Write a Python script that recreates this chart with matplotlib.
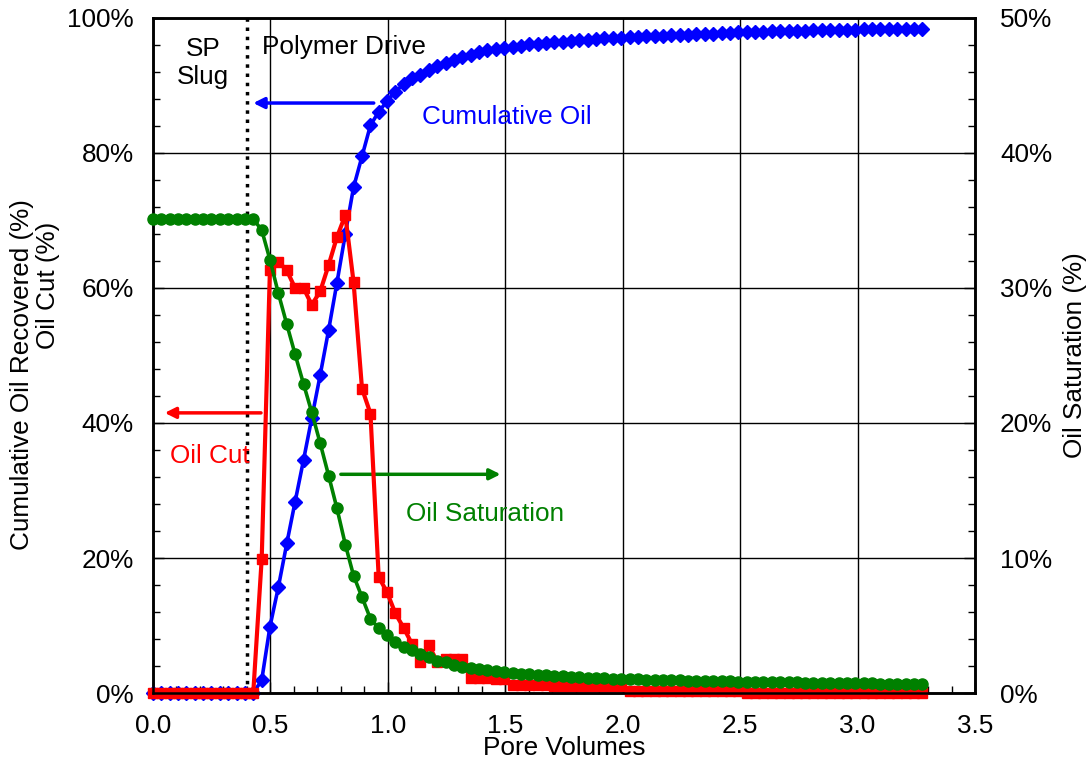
import numpy as np
import matplotlib.pyplot as plt
from matplotlib.ticker import MultipleLocator, PercentFormatter

plt.rcParams["font.family"] = ["Liberation Sans", "DejaVu Sans"]

# ============================================
# DATA
# ============================================

pore_volumes = [
    0.000, 0.036, 0.071, 0.107, 0.142, 0.178, 0.214, 0.249, 0.285, 0.320,
    0.356, 0.392, 0.427, 0.463, 0.498, 0.534, 0.570, 0.605, 0.641, 0.676,
    0.712, 0.748, 0.783, 0.819, 0.854, 0.890, 0.926, 0.961, 0.997, 1.032,
    1.068, 1.104, 1.139, 1.175, 1.210, 1.246, 1.282, 1.317, 1.353, 1.388,
    1.424, 1.460, 1.495, 1.531, 1.566, 1.602, 1.638, 1.673, 1.709, 1.744,
    1.780, 1.816, 1.851, 1.887, 1.922, 1.958, 1.994, 2.029, 2.065, 2.100,
    2.136, 2.172, 2.207, 2.243, 2.278, 2.314, 2.350, 2.385, 2.421, 2.456,
    2.492, 2.528, 2.563, 2.599, 2.634, 2.670, 2.706, 2.741, 2.777, 2.812,
    2.848, 2.884, 2.919, 2.955, 2.990, 3.026, 3.062, 3.097, 3.133, 3.168,
    3.204, 3.240, 3.275,
]

cumulative_oil = [
    0, 0, 0, 0, 0, 0, 0, 0, 0, 0,
    0, 0, 0, 1.9, 9.8, 15.7, 22.2, 28.3, 34.5, 40.7,
    47.1, 53.8, 60.7, 68.0, 74.9, 79.5, 84.1, 86.1, 87.7, 89.1,
    90.2, 91.1, 91.6, 92.3, 92.9, 93.3, 93.8, 94.2, 94.5, 94.9,
    95.2, 95.4, 95.6, 95.7, 95.9, 96.1, 96.2, 96.3, 96.4, 96.5,
    96.6, 96.7, 96.8, 96.9, 97.0, 97.0, 97.1, 97.15, 97.2, 97.3,
    97.35, 97.4, 97.45, 97.5, 97.55, 97.6, 97.65, 97.7, 97.75, 97.8,
    97.85, 97.9, 97.9, 97.95, 98.0, 98.0, 98.05, 98.1, 98.1, 98.15,
    98.15, 98.2, 98.2, 98.25, 98.25, 98.3, 98.3, 98.3, 98.35, 98.35,
    98.35, 98.4, 98.4,
]

oil_cut = [
    0, 0, 0, 0, 0, 0, 0, 0, 0, 0,
    0, 0, 0, 19.9, 62.7, 63.9, 62.6, 60.0, 60.0, 57.5,
    59.5, 63.4, 67.5, 70.8, 60.9, 45.1, 41.4, 17.2, 14.9, 11.8,
    9.6, 7.2, 4.6, 7.1, 4.6, 5.1, 5.1, 5.0, 2.2, 2.2,
    2.2, 2.1, 2.1, 1.2, 1.2, 1.2, 1.2, 1.2, 1.1, 1.1,
    1.1, 1.1, 1.1, 1.1, 1.1, 1.1, 1.1, 0.3, 0.3, 0.3,
    0.3, 0.3, 0.3, 0.3, 0.3, 0.3, 0.3, 0.3, 0.3, 0.3,
    0.3, 0, 0, 0, 0, 0, 0, 0, 0, 0,
    0, 0, 0, 0, 0, 0, 0, 0, 0, 0,
    0, 0, 0,
]

oil_saturation = [
    35.1, 35.1, 35.1, 35.1, 35.1, 35.1, 35.1, 35.1, 35.1, 35.1,
    35.1, 35.1, 35.1, 34.3, 32.1, 29.6, 27.3, 25.1, 22.9, 20.8,
    18.5, 16.1, 13.7, 11.0, 8.7, 7.1, 5.5, 4.8, 4.3, 3.8,
    3.4, 3.2, 2.9, 2.7, 2.4, 2.3, 2.1, 1.95, 1.85, 1.75,
    1.68, 1.6, 1.53, 1.47, 1.42, 1.38, 1.34, 1.3, 1.26, 1.23,
    1.2, 1.17, 1.14, 1.11, 1.09, 1.07, 1.05, 1.03, 1.01, 0.99,
    0.97, 0.96, 0.94, 0.93, 0.91, 0.9, 0.89, 0.88, 0.87, 0.86,
    0.85, 0.84, 0.83, 0.82, 0.81, 0.8, 0.79, 0.78, 0.77, 0.76,
    0.75, 0.74, 0.74, 0.73, 0.72, 0.71, 0.71, 0.7, 0.7, 0.69,
    0.69, 0.68, 0.68,
]

sp_slug_end = 0.40

# ============================================
# FIGURE
# ============================================

fig = plt.figure(figsize=(10.91, 7.65), dpi=100)
ax = fig.add_axes([0.1402, 0.0941, 0.7535, 0.8824])
ax2 = ax.twinx()

FS = 18.8

ax.plot(pore_volumes, cumulative_oil, color="#0000FF", lw=2.6,
        marker="D", ms=7, zorder=3, clip_on=False)
ax.plot(pore_volumes, oil_cut, color="#FF0000", lw=3.0,
        marker="s", ms=7.5, zorder=4, clip_on=False)
ax2.plot(pore_volumes, oil_saturation, color="#008000", lw=2.6,
         marker="o", ms=8, zorder=5, clip_on=False)

ax.axvline(sp_slug_end, color="black", ls=":", lw=2.5, zorder=2)

# axes ranges and ticks
ax.set_xlim(0, 3.5)
ax.set_ylim(0, 100)
ax2.set_ylim(0, 50)

ax.xaxis.set_major_locator(MultipleLocator(0.5))
ax.xaxis.set_minor_locator(MultipleLocator(0.1))
ax.yaxis.set_major_locator(MultipleLocator(20))
ax.yaxis.set_minor_locator(MultipleLocator(4))
ax2.yaxis.set_major_locator(MultipleLocator(10))
ax2.yaxis.set_minor_locator(MultipleLocator(2))

ax.xaxis.set_major_formatter(lambda v, p: f"{v:.1f}")
ax.yaxis.set_major_formatter(PercentFormatter(decimals=0))
ax2.yaxis.set_major_formatter(PercentFormatter(decimals=0))

ax.tick_params(axis="x", which="both", direction="in", labelsize=FS, pad=15)
ax.tick_params(axis="y", which="both", direction="in", labelsize=FS, pad=14)
ax.tick_params(which="major", length=8, width=1)
ax.tick_params(which="minor", length=5, width=1)
ax2.tick_params(axis="y", which="both", direction="in", labelsize=FS, pad=18)
ax2.tick_params(which="major", length=8, width=1)
ax2.tick_params(which="minor", length=5, width=1)

ax.grid(True, which="major", color="black", lw=1)
ax.set_axisbelow(True)

for a in (ax, ax2):
    for s in a.spines.values():
        s.set_linewidth(1.8)

# axis labels
ax.set_xlabel("Pore Volumes", fontsize=FS, labelpad=-1)
ax2.set_ylabel("Oil Saturation (%)", fontsize=FS, labelpad=8)

# left axis title: two lines, placed in figure pixels of the reference
fig.text(22 / 1091, 1 - 375 / 765, "Cumulative Oil Recovered (%)",
         fontsize=FS, rotation=90, ha="center", va="center")
fig.text(48 / 1091, 1 - 285 / 765, "Oil Cut (%)",
         fontsize=FS, rotation=90, ha="center", va="center")

# ============================================
# ANNOTATIONS
# ============================================

ax.text(0.214, 93.3, "SP\nSlug", fontsize=FS, ha="center", va="center")
ax.text(0.466, 95.7, "Polymer Drive", fontsize=FS, ha="left", va="center")

ax.annotate("", xy=(0.427, 87.4), xytext=(0.94, 87.4),
            arrowprops=dict(arrowstyle="-|>", color="#0000FF", lw=2.5,
                            mutation_scale=16, shrinkA=0, shrinkB=0))
ax.text(1.145, 85.3, "Cumulative Oil", fontsize=FS, color="#0000FF",
        ha="left", va="center")

ax.annotate("", xy=(0.05, 41.5), xytext=(0.46, 41.5),
            arrowprops=dict(arrowstyle="-|>", color="#FF0000", lw=2.5,
                            mutation_scale=16, shrinkA=0, shrinkB=0))
ax.text(0.073, 35.1, "Oil Cut", fontsize=FS, color="#FF0000",
        ha="left", va="center")

ax.annotate("", xy=(1.48, 32.4), xytext=(0.80, 32.4),
            arrowprops=dict(arrowstyle="-|>", color="#008000", lw=2.5,
                            mutation_scale=16, shrinkA=0, shrinkB=0))
ax.text(1.077, 26.5, "Oil Saturation", fontsize=FS, color="#008000",
        ha="left", va="center")

fig.savefig("out.png", dpi=100)
